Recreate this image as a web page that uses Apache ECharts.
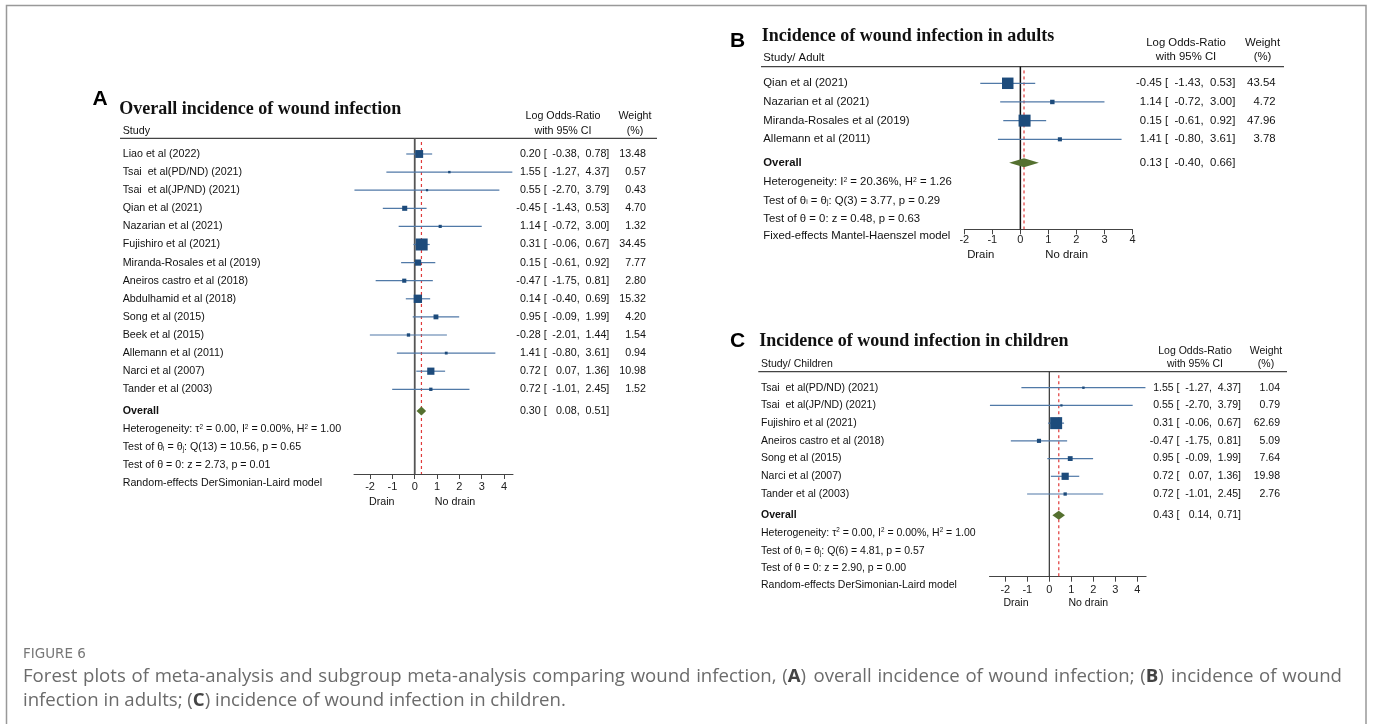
<!DOCTYPE html>
<html>
<head>
<meta charset="utf-8">
<title>Forest plots - wound infection</title>
<script src="https://cdn.jsdelivr.net/npm/echarts@6/dist/echarts.min.js"></script>
<style>
  html, body { margin: 0; padding: 0; background: #fff; }
  #chart { width: 1373px; height: 724px; }
</style>
</head>
<body>
<div id="chart"></div>
<script>
// A: overall incidence of wound infection
const studiesA = ['Liao et al (2022)', 'Tsai  et al(PD/ND) (2021)', 'Tsai  et al(JP/ND) (2021)', 'Qian et al (2021)',
  'Nazarian et al (2021)', 'Fujishiro et al (2021)', 'Miranda-Rosales et al (2019)', 'Aneiros castro et al (2018)',
  'Abdulhamid et al (2018)', 'Song et al (2015)', 'Beek et al (2015)', 'Allemann et al (2011)', 'Narci et al (2007)',
  'Tander et al (2003)']
const estA = [0.20, 1.55, 0.55, -0.45, 1.14, 0.31, 0.15, -0.47, 0.14, 0.95, -0.28, 1.41, 0.72, 0.72]
const lowA = [-0.38, -1.27, -2.70, -1.43, -0.72, -0.06, -0.61, -1.75, -0.40, -0.09, -2.01, -0.80, 0.07, -1.01]
const highA = [0.78, 4.37, 3.79, 0.53, 3.00, 0.67, 0.92, 0.81, 0.69, 1.99, 1.44, 3.61, 1.36, 2.45]
const weightA = [13.48, 0.57, 0.43, 4.70, 1.32, 34.45, 7.77, 2.80, 15.32, 4.20, 1.54, 0.94, 10.98, 1.52]
const overallA = [0.30, 0.08, 0.51]
const statsA = ['Heterogeneity: τ^2 = 0.00, I^2 = 0.00%, H^2 = 1.00', 'Test of θ_i = θ_j: Q(13) = 10.56, p = 0.65',
  'Test of θ = 0: z = 2.73, p = 0.01', 'Random-effects DerSimonian-Laird model']

// B: adults
const studiesB = ['Qian et al (2021)', 'Nazarian et al (2021)', 'Miranda-Rosales et al (2019)', 'Allemann et al (2011)']
const estB = [-0.45, 1.14, 0.15, 1.41]
const lowB = [-1.43, -0.72, -0.61, -0.80]
const highB = [0.53, 3.00, 0.92, 3.61]
const weightB = [43.54, 4.72, 47.96, 3.78]
const overallB = [0.13, -0.40, 0.66]
const statsB = ['Heterogeneity: I^2 = 20.36%, H^2 = 1.26', 'Test of θ_i = θ_j: Q(3) = 3.77, p = 0.29',
  'Test of θ = 0: z = 0.48, p = 0.63', 'Fixed-effects Mantel-Haenszel model']

// C: children
const studiesC = ['Tsai  et al(PD/ND) (2021)', 'Tsai  et al(JP/ND) (2021)', 'Fujishiro et al (2021)',
  'Aneiros castro et al (2018)', 'Song et al (2015)', 'Narci et al (2007)', 'Tander et al (2003)']
const estC = [1.55, 0.55, 0.31, -0.47, 0.95, 0.72, 0.72]
const lowC = [-1.27, -2.70, -0.06, -1.75, -0.09, 0.07, -1.01]
const highC = [4.37, 3.79, 0.67, 0.81, 1.99, 1.36, 2.45]
const weightC = [1.04, 0.79, 62.69, 5.09, 7.64, 19.98, 2.76]
const overallC = [0.43, 0.14, 0.71]
const statsC = ['Heterogeneity: τ^2 = 0.00, I^2 = 0.00%, H^2 = 1.00', 'Test of θ_i = θ_j: Q(6) = 4.81, p = 0.57',
  'Test of θ = 0: z = 2.90, p = 0.00', 'Random-effects DerSimonian-Laird model']

const ticks = [-2, -1, 0, 1, 2, 3, 4]

const captionHead = 'FIGURE 6'
const captionLine1 = 'Forest plots of meta-analysis and subgroup meta-analysis comparing wound infection, (A) overall incidence of wound infection; (B) incidence of wound'
const captionLine2 = 'infection in adults; (C) incidence of wound infection in children.'

const sans = '"Liberation Sans", Arial, sans-serif'
const serif = '"Liberation Serif", "Times New Roman", serif'
const boxColor = '#1d4b7b'
const ciColor = '#5079a7'
const diamondColor = '#54702f'
const refColor = '#e03a3a'

// layout of the three panels (pixels)
const panels = [
  {studies: studiesA, est: estA, low: lowA, high: highA, weight: weightA, overall: overallA, stats: statsA,
    letter: 'A', title: 'Overall incidence of wound infection', studyHead: 'Study',
    letterX: 100, letterY: 99, titleX: 119.3, titleY: 109.3, headX: 122.7, headY: 130.7,
    left: 354, width: 159, top: 138.3, height: 335.7, xMin: -2.72, xMax: 4.4, yMin: -0.867, yMax: 17.68,
    overallRow: 14.2, statsRows: [15.21, 16.2, 17.2, 18.2], lineX0: 120, lineX1: 657,
    estX: 540.7, brX: 543.7, lowX: 579.7, highX: 609.3, wX: 646, colHeadX: 563, wHeadX: 635, head1Y: 115.7, head2Y: 130.7,
    drain: [381.7, 502.3], noDrain: [455, 502.3], fs: 10.7, labelMargin: 7, zeroColor: '#555', zeroWidth: 1.8},
  {studies: studiesB, est: estB, low: lowB, high: highB, weight: weightB, overall: overallB, stats: statsB,
    letter: 'B', title: 'Incidence of wound infection in adults', studyHead: 'Study/ Adult',
    letterX: 737.5, letterY: 41.7, titleX: 761.7, titleY: 36.7, headX: 763.3, headY: 57.7,
    left: 964.3, width: 168.2, top: 66.7, height: 162.6, xMin: -2, xMax: 4, yMin: -0.889, yMax: 7.82,
    overallRow: 4.25, statsRows: [5.27, 6.27, 7.27, 8.18], lineX0: 761, lineX1: 1284,
    estX: 1161.9, brX: 1165, lowX: 1203.6, highX: 1235.3, wX: 1275.5, colHeadX: 1186, wHeadX: 1262.5, head1Y: 43.3, head2Y: 57.3,
    drain: [980.7, 255.3], noDrain: [1066.7, 255.3], fs: 11.35, labelMargin: 5.5, zeroColor: '#111', zeroWidth: 1.5},
  {studies: studiesC, est: estC, low: lowC, high: highC, weight: weightC, overall: overallC, stats: statsC,
    letter: 'C', title: 'Incidence of wound infection in children', studyHead: 'Study/ Children',
    letterX: 737.5, letterY: 341.7, titleX: 759.3, titleY: 341.7, headX: 761, headY: 364.3,
    left: 989.5, width: 156.6, top: 371.7, height: 205, xMin: -2.72, xMax: 4.4, yMin: -0.903, yMax: 10.666,
    overallRow: 7.2, statsRows: [8.2, 9.2, 10.17, 11.12], lineX0: 758.3, lineX1: 1287,
    estX: 1173.6, brX: 1176.5, lowX: 1212, highX: 1241, wX: 1280, colHeadX: 1195, wHeadX: 1266, head1Y: 351, head2Y: 364.5,
    drain: [1016, 602.7], noDrain: [1088.3, 602.7], fs: 10.5, labelMargin: 7.5, zeroColor: '#333', zeroWidth: 1.2}
]

const chart = echarts.init(document.getElementById('chart'), null, {renderer: 'canvas'})

function panelSeries (p, g) {
  const wMax = Math.max.apply(null, p.weight)
  return [
    {
      type: 'line', xAxisIndex: g, yAxisIndex: g, symbol: 'none', silent: true, z: 1,
      data: [[0, p.yMin], [0, p.yMax]],
      lineStyle: {color: p.zeroColor, width: p.zeroWidth}
    },
    {
      type: 'line', xAxisIndex: g, yAxisIndex: g, symbol: 'none', silent: true, z: 2,
      data: [[p.overall[0], p.yMin + 0.2], [p.overall[0], p.yMax]],
      lineStyle: {color: refColor, width: 1.2, type: [3, 3]}
    },
    {
      type: 'custom', xAxisIndex: g, yAxisIndex: g, silent: true, z: 3,
      data: p.est.map((v, i) => [i, p.low[i], p.high[i]]),
      encode: {x: [1, 2], y: 0},
      renderItem: function (params, api) {
        const a = api.coord([api.value(1), api.value(0)])
        const b = api.coord([api.value(2), api.value(0)])
        return {type: 'line', shape: {x1: a[0], y1: a[1], x2: b[0], y2: b[1]}, style: {stroke: ciColor, lineWidth: 1.2}}
      }
    },
    {
      type: 'scatter', xAxisIndex: g, yAxisIndex: g, silent: true, z: 4,
      symbol: 'rect',
      symbolSize: function (val) { return 1 + 11 * Math.sqrt(val[2] / wMax) },
      itemStyle: {color: boxColor, opacity: 1},
      data: p.est.map((v, i) => [v, i, p.weight[i]])
    },
    {
      type: 'custom', xAxisIndex: g, yAxisIndex: g, silent: true, z: 4,
      data: [[p.overallRow, p.overall[0], p.overall[1], p.overall[2]]],
      encode: {x: [1, 2, 3], y: 0},
      renderItem: function (params, api) {
        const row = api.value(0)
        const c = api.coord([api.value(1), row])
        const l = api.coord([api.value(2), row])
        const r = api.coord([api.value(3), row])
        const h = 4.5
        return {
          type: 'polygon',
          shape: {points: [[l[0], c[1]], [c[0], c[1] - h], [r[0], c[1]], [c[0], c[1] + h]]},
          style: {fill: diamondColor}
        }
      }
    }
  ]
}

chart.setOption({
  animation: false,
  backgroundColor: '#fff',
  grid: panels.map(p => ({left: p.left, top: p.top, width: p.width, height: p.height})),
  xAxis: panels.map((p, g) => ({
    gridIndex: g, type: 'value', min: p.xMin, max: p.xMax, position: 'bottom',
    axisLine: {show: true, onZero: false, lineStyle: {color: '#444', width: 1}},
    axisTick: {show: true, customValues: ticks, length: 5, lineStyle: {color: '#444'}},
    axisLabel: {customValues: ticks, margin: p.labelMargin, fontSize: 11, color: '#222', fontFamily: sans},
    splitLine: {show: false}
  })),
  yAxis: panels.map((p, g) => ({gridIndex: g, type: 'value', inverse: true, min: p.yMin, max: p.yMax, show: false})),
  series: panels.map(panelSeries).reduce((a, b) => a.concat(b), [])
})

// texts, placed on the rows of each panel's scale
const els = []
function text (x, y, str, opt) {
  const st = Object.assign({text: str, fill: '#111', fontFamily: sans, fontSize: 11}, opt || {})
  st.align = st.textAlign = st.align || 'left'
  st.verticalAlign = st.textVerticalAlign = 'middle'
  els.push({type: 'text', x: x, y: y, silent: true, style: st})
}
function richify (s) {
  return '{n|' + s.replace(/\^(\w)/g, '}{sup|$1}{n|').replace(/_(\w)/g, '}{sub|$1}{n|') + '}'
}

panels.forEach((p, g) => {
  const rowY = row => chart.convertToPixel({gridIndex: g}, [0, row])[1]
  const fs = p.fs
  text(p.letterX, p.letterY, p.letter, {fontSize: 21, fontWeight: 'bold', fill: '#000', align: 'center'})
  text(p.titleX, p.titleY, p.title, {fontSize: 18, fontWeight: 'bold', fontFamily: serif, fill: '#111'})
  text(p.headX, p.headY, p.studyHead, {fontSize: fs})
  text(p.colHeadX, p.head1Y, 'Log Odds-Ratio', {fontSize: fs, align: 'center'})
  text(p.colHeadX, p.head2Y, 'with 95% CI', {fontSize: fs, align: 'center'})
  text(p.wHeadX, p.head1Y, 'Weight', {fontSize: fs, align: 'center'})
  text(p.wHeadX, p.head2Y, '(%)', {fontSize: fs, align: 'center'})
  els.push({type: 'line', silent: true, shape: {x1: p.lineX0, y1: rowY(p.yMin), x2: p.lineX1, y2: rowY(p.yMin)},
    style: {stroke: '#444', lineWidth: 1.2}})

  const valueRow = (y, e, lo, hi) => {
    text(p.estX, y, e.toFixed(2), {fontSize: fs, align: 'right'})
    text(p.brX, y, '[', {fontSize: fs})
    text(p.lowX, y, lo.toFixed(2) + ',', {fontSize: fs, align: 'right'})
    text(p.highX, y, hi.toFixed(2) + ']', {fontSize: fs, align: 'right'})
  }
  p.studies.forEach((s, i) => {
    const y = rowY(i)
    text(p.headX, y, s, {fontSize: fs})
    valueRow(y, p.est[i], p.low[i], p.high[i])
    text(p.wX, y, p.weight[i].toFixed(2), {fontSize: fs, align: 'right'})
  })
  const oy = rowY(p.overallRow)
  text(p.headX, oy, 'Overall', {fontSize: fs, fontWeight: 'bold'})
  valueRow(oy, p.overall[0], p.overall[1], p.overall[2])

  p.stats.forEach((s, k) => {
    text(p.headX, rowY(p.statsRows[k]), richify(s), {
      fontSize: fs,
      rich: {
        n: {fontSize: fs, fontFamily: sans, fill: '#111'},
        sup: {fontSize: fs * 0.6, fontFamily: sans, fill: '#111', verticalAlign: 'top'},
        sub: {fontSize: fs * 0.6, fontFamily: sans, fill: '#111', verticalAlign: 'bottom'}
      }
    })
  })
  text(p.drain[0], p.drain[1], 'Drain', {fontSize: fs, align: 'center'})
  text(p.noDrain[0], p.noDrain[1], 'No drain', {fontSize: fs, align: 'center'})
})

// caption, first line justified like the journal layout
const capFont = '"Open Sans", sans-serif'
const capSize = 18.6
const capColor = '#6b6b6b'
const capRich = {
  n: {fontSize: capSize, fontFamily: capFont, fill: capColor},
  b: {fontSize: capSize, fontFamily: capFont, fill: '#444', fontWeight: 'bold'}
}
const capWord = w => w.replace(/^\(([ABC])\)(.*)$/, '{n|(}{b|$1}{n|)$2}').replace(/^([^{].*)$/, '{n|$1}')
text(23, 654.5, captionHead, {fontSize: 13.5, fontFamily: '"DejaVu Sans", sans-serif', fill: '#777'})

const measure = document.createElement('canvas').getContext('2d')
const words = captionLine1.split(' ')
const widths = words.map(w => {
  measure.font = (/^\([ABC]\)/.test(w) ? 'bold ' : '') + capSize + 'px ' + capFont
  return measure.measureText(w).width
})
const gap = (1342 - 23 - widths.reduce((a, b) => a + b, 0)) / (words.length - 1)
let cx = 23
words.forEach((w, i) => {
  text(cx, 677, capWord(w), {fontSize: capSize, fontFamily: capFont, fill: capColor, rich: capRich})
  cx += widths[i] + gap
})
text(23, 700.5, captionLine2.split(' ').map(capWord).join('{n| }'), {fontSize: capSize, fontFamily: capFont, fill: capColor, rich: capRich})

els.push({type: 'rect', silent: true, shape: {x: 6.5, y: 5.5, width: 1359.5, height: 730},
  style: {fill: 'none', stroke: '#999', lineWidth: 1.5}})

chart.setOption({graphic: {elements: els}})
</script>
</body>
</html>
